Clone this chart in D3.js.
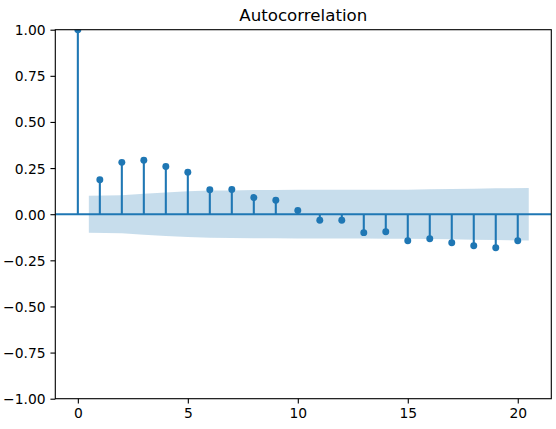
<!DOCTYPE html>
<html>
<head>
<meta charset="utf-8">
<script src="https://cdn.jsdelivr.net/npm/d3@7"></script>
<style>
  html, body { margin: 0; padding: 0; background: #fff; }
  svg { display: block; font-family: "DejaVu Sans", sans-serif; }
</style>
</head>
<body>
<svg id="chart" width="556" height="429"></svg>
<script>
// ---- data ----
const title = "Autocorrelation";
const lags = [0, 1, 2, 3, 4, 5, 6, 7, 8, 9, 10, 11, 12, 13, 14, 15, 16, 17, 18, 19, 20];
const acfValues = [1.0, 0.187, 0.281, 0.292, 0.259, 0.227, 0.132, 0.134, 0.090, 0.076, 0.020,
                   -0.033, -0.033, -0.100, -0.095, -0.144, -0.133, -0.155, -0.171, -0.182, -0.144];
// confidence band (half-width) at lags 1..20, edges shifted to 0.5 and 20.5
const bandLags = [0.5, 2, 3, 4, 5, 6, 7, 8, 9, 10, 11, 12, 13, 14, 15, 16, 17, 18, 19, 20.5];
const bandHalfWidth = [0.100, 0.103, 0.111, 0.118, 0.124, 0.128, 0.129, 0.131, 0.131, 0.132,
                       0.132, 0.132, 0.132, 0.133, 0.133, 0.135, 0.136, 0.138, 0.140, 0.142];
const xTicks = [0, 5, 10, 15, 20];
const yTicks = [-1.0, -0.75, -0.5, -0.25, 0, 0.25, 0.5, 0.75, 1.0];

// ---- layout ----
const W = 556, H = 429;
const margin = { left: 55.3, top: 29.7, right: 4.7, bottom: 30.3 };
const iw = W - margin.left - margin.right;
const ih = H - margin.top - margin.bottom;
const color = "#1f77b4";
const px = 100 / 72;

const svg = d3.select("#chart");
const g = svg.append("g").attr("transform", `translate(${margin.left},${margin.top})`);

const x = d3.scaleLinear().domain([-1.025, 21.525]).range([0, iw]);
const y = d3.scaleLinear().domain([-1, 1]).range([ih, 0]);

svg.append("defs").append("clipPath").attr("id", "clip")
  .append("rect").attr("x", 0).attr("y", 0).attr("width", iw).attr("height", ih);

const plot = g.append("g").attr("clip-path", "url(#clip)");

// band
const bandData = bandLags.map((l, i) => ({ l, h: bandHalfWidth[i] }));
plot.append("path")
  .datum(bandData)
  .attr("fill", color)
  .attr("fill-opacity", 0.25)
  .attr("stroke", "none")
  .attr("d", d3.area().x(d => x(d.l)).y0(d => y(-d.h)).y1(d => y(d.h)));

// stems
const pts = lags.map((l, i) => ({ l, v: acfValues[i] }));
plot.selectAll("line.stem").data(pts).join("line")
  .attr("class", "stem")
  .attr("x1", d => x(d.l)).attr("x2", d => x(d.l))
  .attr("y1", y(0)).attr("y2", d => y(d.v))
  .attr("stroke", color).attr("stroke-width", 1.5 * px);

// zero line
plot.append("line")
  .attr("x1", 0).attr("x2", iw)
  .attr("y1", y(0)).attr("y2", y(0))
  .attr("stroke", color).attr("stroke-width", 1.5 * px);

// markers
plot.selectAll("circle").data(pts).join("circle")
  .attr("cx", d => x(d.l)).attr("cy", d => y(d.v))
  .attr("r", 2.5 * px)
  .attr("fill", color);

// axes
const tickLen = 3.5 * px;
const fontSize = 10 * px;

const xAxis = g.append("g").attr("transform", `translate(0,${ih})`)
  .call(d3.axisBottom(x).tickValues(xTicks).tickFormat(d3.format("d"))
    .tickSizeInner(tickLen).tickSizeOuter(0).tickPadding(3.5 * px));
const yAxis = g.append("g")
  .call(d3.axisLeft(y).tickValues(yTicks).tickFormat(d3.format(".2f"))
    .tickSizeInner(tickLen).tickSizeOuter(0).tickPadding(3.5 * px));

[xAxis, yAxis].forEach(a => {
  a.select(".domain").remove();
  a.selectAll(".tick line").attr("stroke", "#000").attr("stroke-width", 0.8 * px);
  a.selectAll(".tick text").attr("fill", "#000")
    .style("font-family", "'DejaVu Sans', sans-serif").style("font-size", fontSize + "px");
});
yAxis.selectAll(".tick text").attr("dy", "0.36em");

// spines
g.append("rect")
  .attr("x", 0).attr("y", 0).attr("width", iw).attr("height", ih)
  .attr("fill", "none").attr("stroke", "#000").attr("stroke-width", 0.8 * px);

// title
g.append("text")
  .attr("x", iw / 2).attr("y", -6 * px)
  .attr("text-anchor", "middle")
  .style("font-family", "'DejaVu Sans', sans-serif")
  .style("font-size", (12 * px) + "px")
  .attr("fill", "#000")
  .text(title);
</script>
</body>
</html>
